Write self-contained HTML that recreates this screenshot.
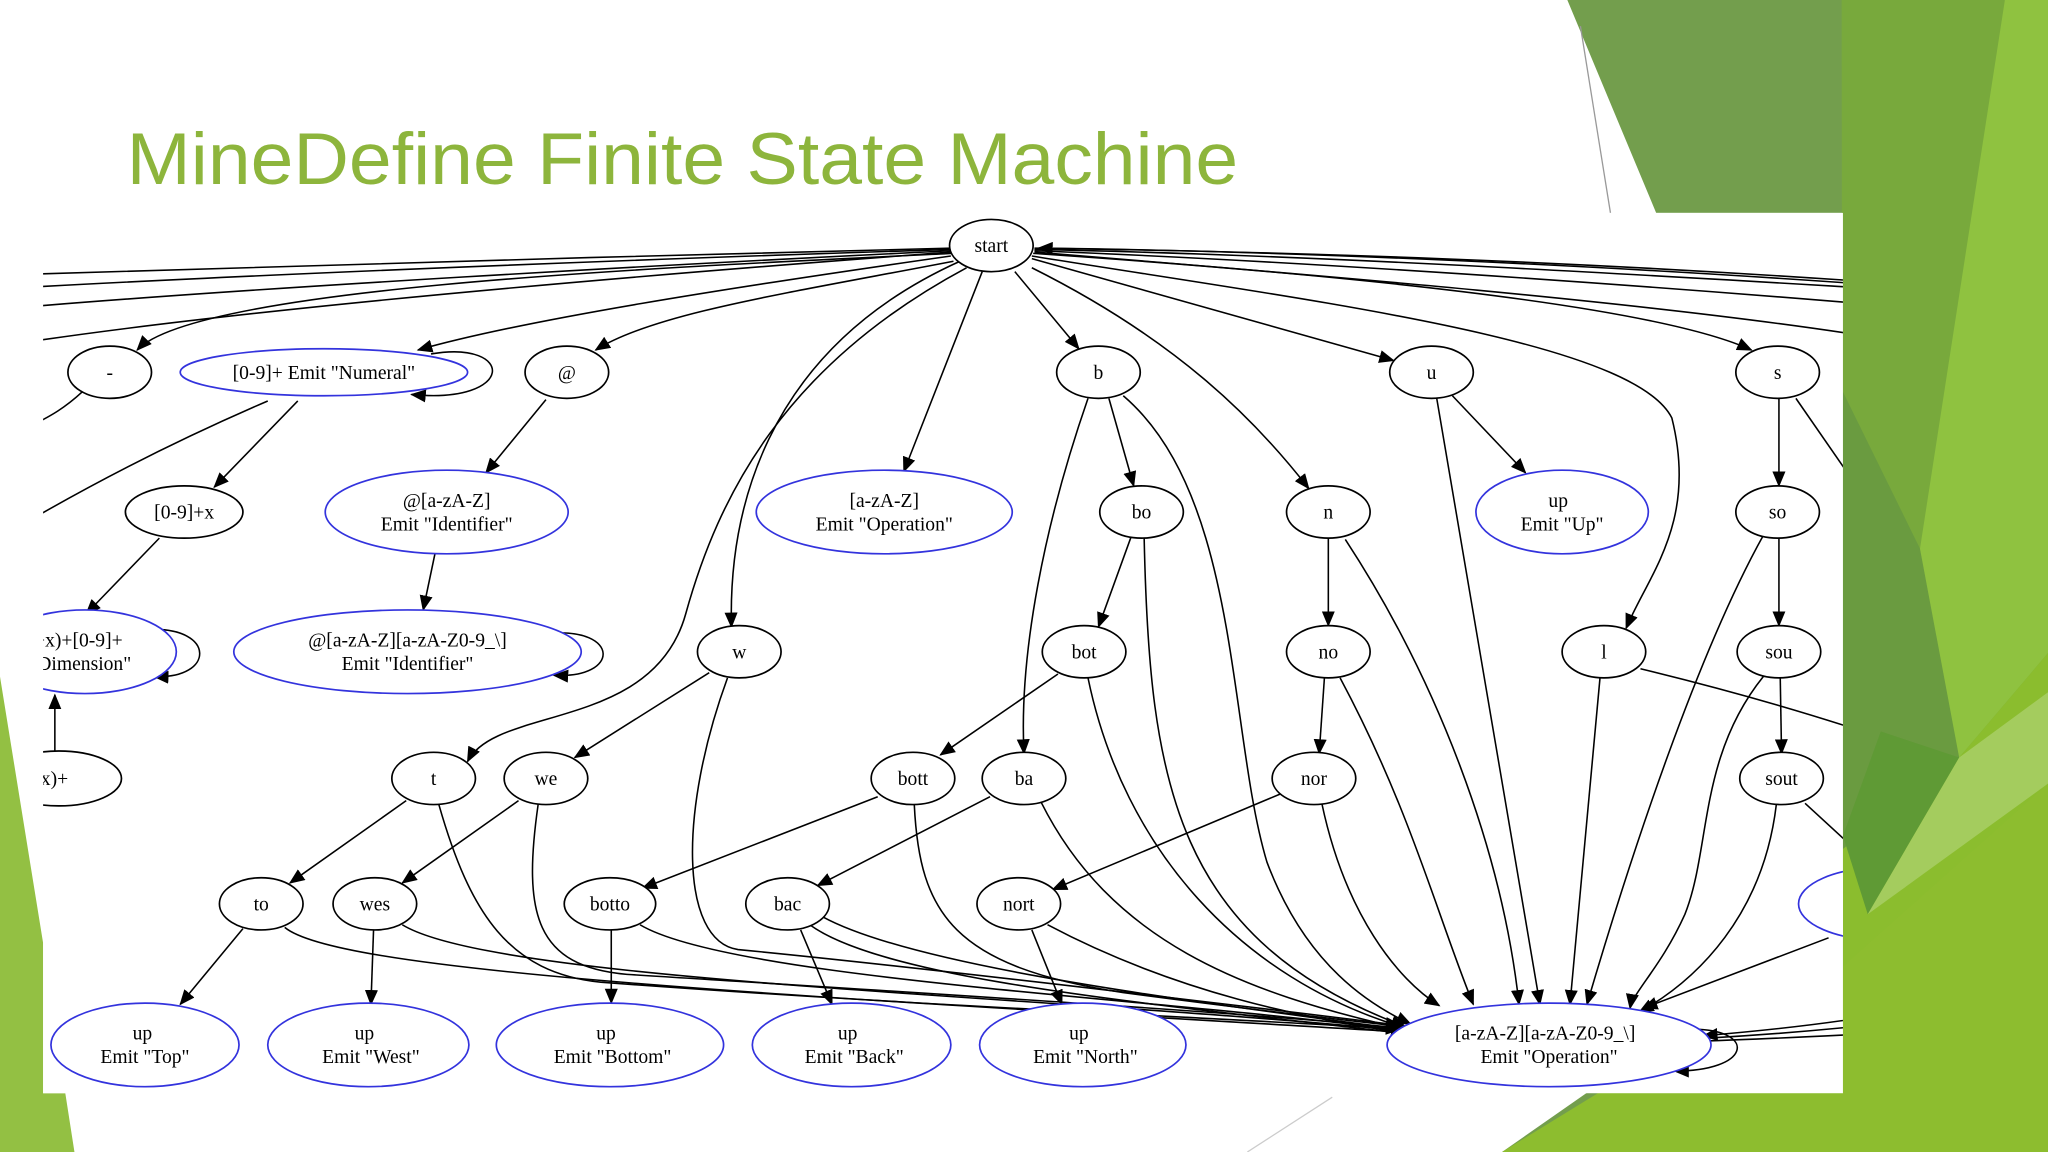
<!DOCTYPE html>
<html><head><meta charset="utf-8"><style>
html,body{margin:0;padding:0;background:#fff;}
svg{display:block;}
text{font-family:"Liberation Serif",serif;font-size:15px;fill:#000;}
</style></head><body>
<svg width="2048" height="1152" viewBox="0 0 1568 882" xmlns="http://www.w3.org/2000/svg">
<defs>
<marker id="a" markerWidth="12" markerHeight="10" refX="11" refY="5" orient="auto" markerUnits="userSpaceOnUse"><path d="M0,0 L12,5 L0,10 z" fill="#000"/></marker>
<clipPath id="c"><rect x="33" y="163" width="1378" height="674"/></clipPath>
</defs>
<rect width="1568" height="882" fill="#fff"/>
<!-- right decorations -->
<polygon points="1200,0 1420,0 1420,882 1150,882 1411,700 1411,163 1268,163" fill="#739e4d"/>
<polygon points="1410,0 1535,0 1568,90 1568,882 1411,882" fill="#78a93c"/>
<polygon points="1411,300 1470,420 1500,580 1411,650" fill="#6a9b40"/>
<polygon points="1535,0 1568,0 1568,500 1500,580 1470,420" fill="#8fc240"/>
<polygon points="1411,880 1411,650 1500,580 1568,500 1568,882" fill="#8bbd2e"/>
<polygon points="1411,640 1440,560 1500,580 1430,700" fill="#5f9a35"/>
<polygon points="1430,700 1500,580 1568,530 1568,600" fill="#a4cc5e"/>
<polygon points="1150,882 1300,790 1411,740 1568,600 1568,882" fill="#8dbd2f"/>
<line x1="1210" y1="20" x2="1233" y2="163" stroke="#999" stroke-width="1"/>
<!-- left decorations -->
<polygon points="0,518 33,722 33,837 50,837 57,882 0,882" fill="#93c043"/>
<line x1="955" y1="882" x2="1020" y2="840" stroke="#ccc" stroke-width="1"/>
<!-- title -->
<text x="97" y="141" textLength="851" lengthAdjust="spacingAndGlyphs" style="font-family:'Liberation Sans',sans-serif;font-size:56px;fill:#8db53c">MineDefine Finite State Machine</text>
<!-- diagram -->
<rect x="33" y="163" width="1378" height="674" fill="#fff"/>
<g clip-path="url(#c)" fill="none" stroke="#000" stroke-width="1.2">
<path d="M728,190 C500,195 200,205 20,210"/>
<path d="M728,191 C500,198 200,210 20,220"/>
<path d="M728,192 C500,203 200,220 20,235"/>
<path d="M728,193 C500,210 200,235 20,262"/>
<path d="M63,300 C50,312 40,318 20,328"/>
<path d="M205,307 C140,335 80,365 20,400"/>
<path d="M792,190 C1000,192 1250,205 1420,217"/>
<path d="M792,191 C1000,195 1250,210 1420,220"/>
<path d="M792,192 C1000,200 1250,218 1420,232"/>
<path d="M792,193 C1000,210 1250,230 1420,256"/>
<path d="M1420,215 C1200,200 1000,193 795,190" marker-end="url(#a)"/>
<path d="M730,194 C500,205 150,220 105,268" marker-end="url(#a)"/>
<path d="M728,196 C560,220 400,245 320,268" marker-end="url(#a)"/>
<path d="M730,200 C600,225 500,240 456,268" marker-end="url(#a)"/>
<path d="M735,200 C580,270 558,400 560,480" marker-end="url(#a)"/>
<path d="M740,205 C600,280 550,380 525,470 C500,560 380,540 358,583" marker-end="url(#a)"/>
<path d="M752,208 L692,361" marker-end="url(#a)"/>
<path d="M777,208 L826,267" marker-end="url(#a)"/>
<path d="M790,205 C900,260 960,320 1002,374" marker-end="url(#a)"/>
<path d="M790,198 L1067,276" marker-end="url(#a)"/>
<path d="M790,196 C1000,230 1250,260 1280,320 C1300,400 1262,440 1245,481" marker-end="url(#a)"/>
<path d="M791,194 C1100,215 1280,240 1341,268" marker-end="url(#a)"/>
<path d="M228,307 L164,373" marker-end="url(#a)"/>
<path d="M330,271 C395,260 395,310 315,302" marker-end="url(#a)"/>
<path d="M122,412 L66,470" marker-end="url(#a)"/>
<path d="M42,578 L42,532" marker-end="url(#a)"/>
<path d="M115,482 C165,480 165,520 118,518" marker-end="url(#a)"/>
<path d="M418,306 L372,362" marker-end="url(#a)"/>
<path d="M333,424 L324,467" marker-end="url(#a)"/>
<path d="M420,485 C475,480 475,520 424,517" marker-end="url(#a)"/>
<path d="M543,515 L440,580" marker-end="url(#a)"/>
<path d="M557,519 C520,620 520,720 565,727 C700,740 950,770 1072,785" marker-end="url(#a)"/>
<path d="M336,616 C360,700 390,745 460,752 C700,770 950,780 1072,788" marker-end="url(#a)"/>
<path d="M311,613 L222,676" marker-end="url(#a)"/>
<path d="M397,613 L308,676" marker-end="url(#a)"/>
<path d="M412,616 C400,700 410,740 480,746 C700,760 950,775 1072,787"/>
<path d="M186,711 L138,769" marker-end="url(#a)"/>
<path d="M218,710 C260,745 600,762 1072,790"/>
<path d="M286,712 L284,769" marker-end="url(#a)"/>
<path d="M308,708 C380,752 800,762 1072,789"/>
<path d="M849,305 L868,372" marker-end="url(#a)"/>
<path d="M833,305 C800,400 780,500 784,577" marker-end="url(#a)"/>
<path d="M860,303 C950,380 940,560 970,660 C1000,740 1050,770 1080,784" marker-end="url(#a)"/>
<path d="M866,411 L841,480" marker-end="url(#a)"/>
<path d="M876,412 C880,600 900,720 1076,786" marker-end="url(#a)"/>
<path d="M810,516 L720,578" marker-end="url(#a)"/>
<path d="M833,519 C860,650 950,750 1076,787" marker-end="url(#a)"/>
<path d="M672,610 L492,680" marker-end="url(#a)"/>
<path d="M700,616 C704,700 730,740 860,760 C950,772 1020,780 1074,786" marker-end="url(#a)"/>
<path d="M468,712 L468,768" marker-end="url(#a)"/>
<path d="M490,708 C560,750 900,765 1072,789"/>
<path d="M758,610 L626,678" marker-end="url(#a)"/>
<path d="M797,614 C850,720 950,760 1076,788" marker-end="url(#a)"/>
<path d="M613,712 L637,769" marker-end="url(#a)"/>
<path d="M620,708 C680,752 900,770 1072,791"/>
<path d="M630,702 C700,740 900,765 1072,788"/>
<path d="M980,608 L806,681" marker-end="url(#a)"/>
<path d="M790,712 L813,769" marker-end="url(#a)"/>
<path d="M802,708 C900,760 1000,780 1076,791" marker-end="url(#a)"/>
<path d="M1012,615 C1030,700 1070,750 1102,770" marker-end="url(#a)"/>
<path d="M1017,412 L1017,479" marker-end="url(#a)"/>
<path d="M1030,413 C1100,520 1150,650 1163,769" marker-end="url(#a)"/>
<path d="M1014,519 L1010,577" marker-end="url(#a)"/>
<path d="M1026,519 C1080,620 1100,700 1128,769" marker-end="url(#a)"/>
<path d="M1112,303 L1168,362" marker-end="url(#a)"/>
<path d="M1100,305 L1179,769" marker-end="url(#a)"/>
<path d="M1225,519 L1202,769" marker-end="url(#a)"/>
<path d="M1256,512 C1330,530 1380,545 1420,558"/>
<path d="M1362,305 L1362,372" marker-end="url(#a)"/>
<path d="M1362,412 L1362,479" marker-end="url(#a)"/>
<path d="M1363,519 L1364,577" marker-end="url(#a)"/>
<path d="M1375,305 L1420,370"/>
<path d="M1350,410 C1300,500 1250,650 1215,769" marker-end="url(#a)"/>
<path d="M1350,518 C1300,580 1310,650 1290,700 C1272,740 1250,760 1248,772" marker-end="url(#a)"/>
<path d="M1360,616 C1350,700 1300,750 1255,775" marker-end="url(#a)"/>
<path d="M1382,615 L1420,650"/>
<path d="M1400,718 L1258,772" marker-end="url(#a)"/>
<path d="M1420,780 C1380,786 1340,790 1304,793" marker-end="url(#a)"/>
<path d="M1420,786 C1380,790 1340,793 1304,795"/>
<path d="M1420,792 C1380,794 1340,796 1304,797"/>
<path d="M1300,788 C1345,790 1340,820 1282,820" marker-end="url(#a)"/>
</g>
<g clip-path="url(#c)" stroke-width="1.3" fill="#fff">
<g stroke="#000">
<ellipse cx="759" cy="188" rx="32" ry="20"/>
<ellipse cx="84" cy="285" rx="32" ry="20"/>
<ellipse cx="434" cy="285" rx="32" ry="20"/>
<ellipse cx="841" cy="285" rx="32" ry="20"/>
<ellipse cx="1096" cy="285" rx="32" ry="20"/>
<ellipse cx="1361" cy="285" rx="32" ry="20"/>
<ellipse cx="141" cy="392" rx="45" ry="20"/>
<ellipse cx="874" cy="392" rx="32" ry="20"/>
<ellipse cx="1017" cy="392" rx="32" ry="20"/>
<ellipse cx="1361" cy="392" rx="32" ry="20"/>
<ellipse cx="566" cy="499" rx="32" ry="20"/>
<ellipse cx="830" cy="499" rx="32" ry="20"/>
<ellipse cx="1017" cy="499" rx="32" ry="20"/>
<ellipse cx="1228" cy="499" rx="32" ry="20"/>
<ellipse cx="1362" cy="499" rx="32" ry="20"/>
<ellipse cx="45" cy="596" rx="48" ry="21"/>
<ellipse cx="332" cy="596" rx="32" ry="20"/>
<ellipse cx="418" cy="596" rx="32" ry="20"/>
<ellipse cx="699" cy="596" rx="32" ry="20"/>
<ellipse cx="784" cy="596" rx="32" ry="20"/>
<ellipse cx="1006" cy="596" rx="32" ry="20"/>
<ellipse cx="1364" cy="596" rx="32" ry="20"/>
<ellipse cx="200" cy="692" rx="32" ry="20"/>
<ellipse cx="287" cy="692" rx="32" ry="20"/>
<ellipse cx="467" cy="692" rx="35" ry="20"/>
<ellipse cx="603" cy="692" rx="32" ry="20"/>
<ellipse cx="780" cy="692" rx="32" ry="20"/>
</g>
<g stroke="#3333dd">
<ellipse cx="248" cy="285" rx="110" ry="18"/>
<ellipse cx="342" cy="392" rx="93" ry="32"/>
<ellipse cx="677" cy="392" rx="98" ry="32"/>
<ellipse cx="1196" cy="392" rx="66" ry="32"/>
<ellipse cx="65" cy="499" rx="70" ry="32"/>
<ellipse cx="312" cy="499" rx="133" ry="32"/>
<ellipse cx="1442" cy="692" rx="65" ry="28"/>
<ellipse cx="111" cy="800" rx="72" ry="32"/>
<ellipse cx="282" cy="800" rx="77" ry="32"/>
<ellipse cx="467" cy="800" rx="87" ry="32"/>
<ellipse cx="652" cy="800" rx="76" ry="32"/>
<ellipse cx="829" cy="800" rx="79" ry="32"/>
<ellipse cx="1186" cy="800" rx="124" ry="32"/>
</g>
</g>
<g clip-path="url(#c)" text-anchor="middle">
<text x="759" y="193">start</text>
<text x="84" y="290">-</text>
<text x="248" y="290">[0-9]+ Emit "Numeral"</text>
<text x="434" y="290">@</text>
<text x="841" y="290">b</text>
<text x="1096" y="290">u</text>
<text x="1361" y="290">s</text>
<text x="141" y="397">[0-9]+x</text>
<text x="342" y="388">@[a-zA-Z]</text><text x="342" y="406">Emit "Identifier"</text>
<text x="677" y="388">[a-zA-Z]</text><text x="677" y="406">Emit "Operation"</text>
<text x="874" y="397">bo</text>
<text x="1017" y="397">n</text>
<text x="1193" y="388">up</text><text x="1196" y="406">Emit "Up"</text>
<text x="1361" y="397">so</text>
<text x="45" y="495">[0-9]+x)+[0-9]+</text><text x="45" y="513">Emit "Dimension"</text>
<text x="312" y="495">@[a-zA-Z][a-zA-Z0-9_\]</text><text x="312" y="513">Emit "Identifier"</text>
<text x="566" y="504">w</text>
<text x="830" y="504">bot</text>
<text x="1017" y="504">no</text>
<text x="1228" y="504">l</text>
<text x="1362" y="504">sou</text>
<text x="20" y="601">([0-9]+x)+</text>
<text x="332" y="601">t</text>
<text x="418" y="601">we</text>
<text x="699" y="601">bott</text>
<text x="784" y="601">ba</text>
<text x="1006" y="601">nor</text>
<text x="1364" y="601">sout</text>
<text x="200" y="697">to</text>
<text x="287" y="697">wes</text>
<text x="467" y="697">botto</text>
<text x="603" y="697">bac</text>
<text x="780" y="697">nort</text>
<text x="109" y="796">up</text><text x="111" y="814">Emit "Top"</text>
<text x="279" y="796">up</text><text x="284" y="814">Emit "West"</text>
<text x="464" y="796">up</text><text x="469" y="814">Emit "Bottom"</text>
<text x="649" y="796">up</text><text x="654" y="814">Emit "Back"</text>
<text x="826" y="796">up</text><text x="831" y="814">Emit "North"</text>
<text x="1183" y="796">[a-zA-Z][a-zA-Z0-9_\]</text><text x="1186" y="814">Emit "Operation"</text>
</g>
</svg>
</body></html>
